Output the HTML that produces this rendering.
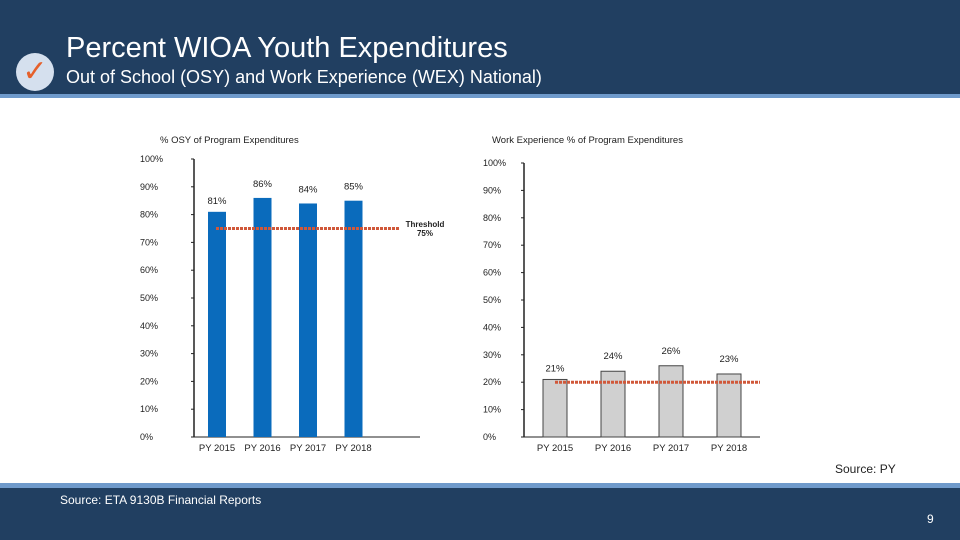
<!DOCTYPE html>
<html><head><meta charset="utf-8"><style>
body{margin:0;width:960px;height:540px;overflow:hidden;background:#fff;font-family:"Liberation Sans",sans-serif;position:relative}
.abs{position:absolute}
</style></head><body>
<div class="abs" style="left:0;top:0;width:960px;height:94px;background:#213f61"></div>
<div class="abs" style="left:0;top:94px;width:960px;height:4px;background:#6f9acb"></div>
<div class="abs" style="left:16px;top:53px;width:38px;height:38px;border-radius:50%;background:#d5e0ee;color:#e5602b;font-size:30px;line-height:38px;text-align:center">✓</div>
<div class="abs" style="left:66px;top:32px;color:#fff;font-size:29px">Percent WIOA Youth Expenditures</div>
<div class="abs" style="left:66px;top:67px;color:#fff;font-size:18px">Out of School (OSY) and Work Experience (WEX) National)</div>

<svg class="abs" style="left:0;top:0" width="960" height="540" id="svg"></svg>

<div class="abs" style="left:835px;top:462px;font-size:12px;color:#222">Source: PY</div>
<div class="abs" style="left:0;top:483px;width:960px;height:5px;background:#6f9acb"></div>
<div class="abs" style="left:0;top:488px;width:960px;height:52px;background:#213f61"></div>
<div class="abs" style="left:60px;top:493px;font-size:12px;color:#fff">Source: ETA 9130B Financial Reports</div>
<div class="abs" style="left:927px;top:512px;font-size:12px;color:#fff">9</div>

<script>
const categories=["PY 2015","PY 2016","PY 2017","PY 2018"];
const osyValues=[81,86,84,85];
const wexValues=[21,24,26,23];
const yTicks=[0,10,20,30,40,50,60,70,80,90,100];
const osyThreshold=75;
const wexThreshold=20;
const NS="http://www.w3.org/2000/svg";
const svg=document.getElementById('svg');
function mk(t,a,p){const e=document.createElementNS(NS,t);for(const k in a)e.setAttribute(k,a[k]);(p||svg).appendChild(e);return e;}
function chart(cfg){
  const g=mk('g',{});
  
  
  const y=v=>cfg.y0-(v/100)*(cfg.y0-cfg.y100);
  const x=i=>cfg.x0+cfg.first+i*cfg.step;
  const t=mk('text',{x:cfg.titleX,y:cfg.titleY,'font-size':9.5,fill:'#222'},g);t.textContent=cfg.title;
  
  mk('line',{x1:cfg.x0,x2:cfg.x0,y1:cfg.y100,y2:cfg.y0,stroke:'#222','stroke-width':1.5},g);
  mk('line',{x1:cfg.x0,x2:cfg.xEnd,y1:cfg.y0,y2:cfg.y0,stroke:'#222','stroke-width':1},g);
  yTicks.forEach(v=>{
    mk('line',{x1:cfg.x0-3,x2:cfg.x0,y1:y(v),y2:y(v),stroke:'#222'},g);
    const l=mk('text',{x:cfg.labX,y:y(v)+3,'font-size':9,fill:'#222'},g);l.textContent=v+'%';
    
  });
  cfg.values.forEach((v,i)=>{
    const r=mk('rect',{x:x(i)-cfg.bw/2,y:y(v),width:cfg.bw,height:y(0)-y(v),fill:cfg.fill,stroke:cfg.stroke,'stroke-width':cfg.stroke==='none'?0:1},g);
    
    
    const vl=mk('text',{x:x(i),y:y(v)-cfg.lblOff[i],'font-size':9.5,fill:'#222','text-anchor':'middle'},g);vl.textContent=v+'%';
    
    const c=mk('text',{x:x(i),y:cfg.y0+14,'font-size':9.5,fill:'#222','text-anchor':'middle'},g);c.textContent=categories[i];
    
  });
  const th=mk('line',{x1:cfg.thX1,x2:cfg.thX2,y1:y(cfg.th),y2:y(cfg.th),stroke:'#d0583a','stroke-width':3,'stroke-dasharray':'3,1'},g);
  
}
chart({name:'osy-chart',title:'% OSY of Program Expenditures',titleX:160,titleY:143,x0:194,xEnd:420,y0:437,y100:159,labX:140,first:23,step:45.5,bw:18,fill:'#0a6bbc',stroke:'none',values:osyValues,th:osyThreshold,thX1:216,thX2:399,lblOff:[8,11,11,11]});
chart({name:'wex-chart',title:'Work Experience % of Program Expenditures',titleX:492,titleY:143,x0:524,xEnd:760,y0:437,y100:163,labX:483,first:31,step:58,bw:24,fill:'#d0d0d0',stroke:'#444',values:wexValues,th:wexThreshold,thX1:555,thX2:760,lblOff:[8,12,12,12]});
const tl=mk('text',{x:425,y:227,'font-size':8,'font-weight':'bold',fill:'#222','text-anchor':'middle'});tl.textContent='Threshold';


const tl2=mk('text',{x:425,y:236,'font-size':8,'font-weight':'bold',fill:'#222','text-anchor':'middle'});tl2.textContent='75%';


</script>
</body></html>
